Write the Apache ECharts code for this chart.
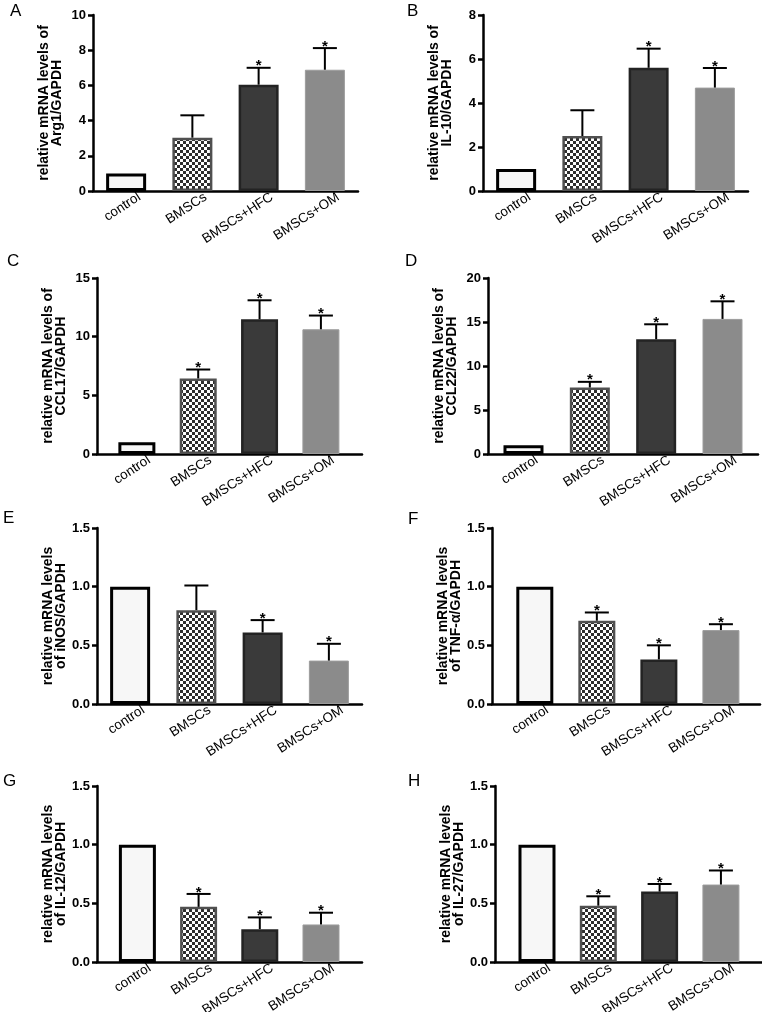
<!DOCTYPE html>
<html>
<head>
<meta charset="utf-8">
<script src="https://cdn.jsdelivr.net/npm/echarts@6/dist/echarts.min.js"></script>
<style>
  html, body { margin: 0; padding: 0; background: #fff; }
  #chart { width: 762px; height: 1012px; }
</style>
</head>
<body>
<div id="chart"></div>
<script>
// ---------------- data ----------------
const categories = ['control', 'BMSCs', 'BMSCs+HFC', 'BMSCs+OM'];

const arg1Mean = [1, 3.03, 6.04, 6.89];
const arg1Err  = [0, 1.27, 0.96, 1.23];
const arg1Sig  = [0, 0, 1, 1];

const il10Mean = [1, 2.5, 5.6, 4.7];
const il10Err  = [0, 1.17, 0.87, 0.89];
const il10Sig  = [0, 0, 1, 1];

const ccl17Mean = [1, 6.44, 11.48, 10.63];
const ccl17Err  = [0, 0.76, 1.62, 1.17];
const ccl17Sig  = [0, 1, 1, 1];

const ccl22Mean = [1, 7.56, 13.04, 15.35];
const ccl22Err  = [0, 0.64, 1.7, 2.0];
const ccl22Sig  = [0, 1, 1, 1];

const inosMean = [1, 0.80, 0.61, 0.37];
const inosErr  = [0, 0.21, 0.105, 0.143];
const inosSig  = [0, 0, 1, 1];

const tnfaMean = [1, 0.71, 0.38, 0.63];
const tnfaErr  = [0, 0.07, 0.12, 0.05];
const tnfaSig  = [0, 1, 1, 1];

const il12Mean = [1, 0.47, 0.28, 0.32];
const il12Err  = [0, 0.11, 0.10, 0.10];
const il12Sig  = [0, 1, 1, 1];

const il27Mean = [1, 0.48, 0.60, 0.66];
const il27Err  = [0, 0.08, 0.065, 0.12];
const il27Sig  = [0, 1, 1, 1];

const panelLetters = ['A', 'B', 'C', 'D', 'E', 'F', 'G', 'H'];
const yTitles = [
  'relative mRNA levels of\nArg1/GAPDH',
  'relative mRNA levels of\nIL-10/GAPDH',
  'relative mRNA levels of\nCCL17/GAPDH',
  'relative mRNA levels of\nCCL22/GAPDH',
  'relative mRNA levels\nof iNOS/GAPDH',
  'relative mRNA levels\nof TNF-α/GAPDH',
  'relative mRNA levels\nof IL-12/GAPDH',
  'relative mRNA levels\nof IL-27/GAPDH'
];
const yMax  = [10, 8, 15, 20, 1.5, 1.5, 1.5, 1.5];
const yStep = [2, 2, 5, 5, 0.5, 0.5, 0.5, 0.5];
const yDecimals = [0, 0, 0, 0, 1, 1, 1, 1];

const panelData = [
  [arg1Mean, arg1Err, arg1Sig],
  [il10Mean, il10Err, il10Sig],
  [ccl17Mean, ccl17Err, ccl17Sig],
  [ccl22Mean, ccl22Err, ccl22Sig],
  [inosMean, inosErr, inosSig],
  [tnfaMean, tnfaErr, tnfaSig],
  [il12Mean, il12Err, il12Sig],
  [il27Mean, il27Err, il27Sig]
];

// ---------------- layout (px) ----------------
const layout = [
  { left: 93,  top: 15,  right: 358, bottom: 191, xMin: -0.5,   xMax: 3.5,   barW: 40, letter: [10, 3] },
  { left: 483, top: 15,  right: 748, bottom: 191, xMin: -0.5,   xMax: 3.5,   barW: 40, letter: [407, 3] },
  { left: 97,  top: 278, right: 362, bottom: 454, xMin: -0.65,  xMax: 3.67,  barW: 37, letter: [7, 253] },
  { left: 488, top: 278, right: 758, bottom: 454, xMin: -0.535, xMax: 3.535, barW: 40, letter: [405, 253] },
  { left: 97,  top: 528, right: 362, bottom: 704, xMin: -0.5,   xMax: 3.5,   barW: 40, letter: [3, 510] },
  { left: 492, top: 528, right: 760, bottom: 704, xMin: -0.69,  xMax: 3.63,  barW: 37, letter: [408, 511] },
  { left: 97,  top: 786, right: 362, bottom: 962, xMin: -0.66,  xMax: 3.67,  barW: 37, letter: [3, 773] },
  { left: 495, top: 786, right: 762, bottom: 962, xMin: -0.685, xMax: 3.67,  barW: 37, letter: [408, 773] }
];

const FONT = '"Liberation Sans", Arial, Helvetica, sans-serif';
const LABEL_SHIFT = 0.2;

// checkerboard pattern
const pat = document.createElement('canvas');
pat.width = 6; pat.height = 6;
(function () {
  const c = pat.getContext('2d');
  c.fillStyle = '#ffffff'; c.fillRect(0, 0, 6, 6);
  c.fillStyle = '#2e2e2e'; c.fillRect(0, 0, 3, 3); c.fillRect(3, 3, 3, 3);
})();

const barStyles = [
  { color: '#f7f7f7', borderColor: '#000000', borderWidth: 3 },
  { color: { image: pat, repeat: 'repeat' }, borderColor: '#505050', borderWidth: 2.5 },
  { color: '#3a3a3a', borderColor: '#232323', borderWidth: 2.5 },
  { color: '#8b8b8b', borderColor: '#9c9c9c', borderWidth: 1 }
];

function renderErr(params, api) {
  const x = api.value(0), m = api.value(1), e = api.value(2), s = api.value(3);
  const base = api.coord([x, m]);
  const top = api.coord([x, m + e]);
  const st = { stroke: '#000', lineWidth: 2 };
  const children = [];
  if (e > 0) {
    children.push({ type: 'line', shape: { x1: base[0], y1: base[1], x2: top[0], y2: top[1] }, style: st });
    children.push({ type: 'line', shape: { x1: top[0] - 12, y1: top[1], x2: top[0] + 12, y2: top[1] }, style: st });
  }
  if (s) {
    children.push({ type: 'text', style: { text: '*', x: top[0], y: top[1] + 6, align: 'center', verticalAlign: 'bottom', font: 'bold 15px ' + FONT, fill: '#000' } });
  }
  return { type: 'group', children: children };
}

const grids = [], xAxes = [], yAxes = [], series = [], titles = [];
layout.forEach((L, p) => {
  grids.push({ left: L.left, top: L.top, width: L.right - L.left, height: L.bottom - L.top, containLabel: false, outerBoundsMode: 'none' });
  titles.push({ text: panelLetters[p], left: L.letter[0], top: L.letter[1], padding: 0,
    textStyle: { fontFamily: FONT, fontSize: 17, fontWeight: 'normal', color: '#000' } });
  xAxes.push({
    type: 'value', gridIndex: p, min: L.xMin, max: L.xMax,
    axisLine: { show: true, onZero: false, lineStyle: { color: '#000', width: 2.5 } },
    axisTick: { show: false }, splitLine: { show: false },
    axisLabel: {
      customValues: categories.map((c, i) => i + LABEL_SHIFT),
      formatter: v => categories[Math.round(v - LABEL_SHIFT)] || '',
      rotate: 33, margin: 5, fontFamily: FONT, fontSize: 13.5, color: '#000'
    }
  });
  const dec = yDecimals[p];
  yAxes.push({
    type: 'value', gridIndex: p, min: 0, max: yMax[p], interval: yStep[p],
    name: yTitles[p], nameLocation: 'middle', nameGap: 29,
    nameTextStyle: { fontFamily: FONT, fontSize: 14, fontWeight: 'bold', color: '#000', lineHeight: 13, align: 'center' },
    axisLine: { show: true, onZero: false, lineStyle: { color: '#000', width: 2.5 } },
    axisTick: { show: true, length: 5, lineStyle: { color: '#000', width: 2.5 } },
    splitLine: { show: false },
    axisLabel: { margin: 7, fontFamily: FONT, fontSize: 13, fontWeight: 'bold', color: '#000',
      formatter: v => Number(v).toFixed(dec) }
  });
  const [means, errs, sigs] = panelData[p];
  series.push({
    type: 'bar', xAxisIndex: p, yAxisIndex: p, barWidth: L.barW,
    data: means.map((v, i) => ({ value: [i, v], itemStyle: barStyles[i] })),
    silent: true, animation: false
  });
  series.push({
    type: 'custom', xAxisIndex: p, yAxisIndex: p, renderItem: renderErr,
    encode: { x: 0, y: 1 },
    data: means.map((v, i) => [i, v, errs[i], sigs[i]]),
    silent: true, animation: false, z: 5
  });
});

const chart = echarts.init(document.getElementById('chart'), null, { renderer: 'canvas' });
chart.setOption({
  backgroundColor: '#ffffff',
  animation: false,
  title: titles,
  grid: grids,
  xAxis: xAxes,
  yAxis: yAxes,
  series: series
});
</script>
</body>
</html>
